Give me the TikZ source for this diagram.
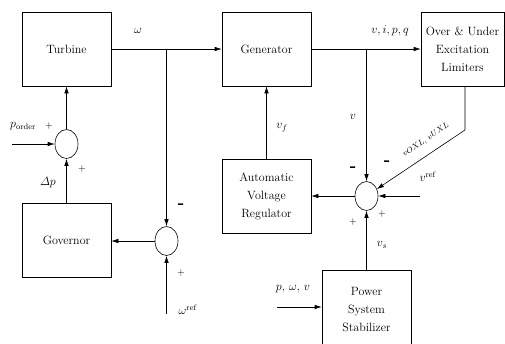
\documentclass[tikz,border=0pt]{standalone}
\usepackage{amsmath}
\usepackage{tikz}
\usetikzlibrary{shapes.geometric, arrows.meta, positioning}

\tikzset{
  block/.style={draw, line width=0.6pt, minimum width=89pt, minimum height=74pt,
    align=center, inner sep=2pt},
  sumnode/.style={draw, ellipse, line width=0.6pt, minimum width=23pt,
    minimum height=29pt, inner sep=0pt},
  arr/.style={line width=0.6pt, -{Latex[length=7pt,width=4.5pt]}},
  sign/.style={inner sep=0pt, font=\normalsize},
  minus/.style={inner sep=0pt, font=\LARGE\bfseries}
}

\begin{document}
\begin{tikzpicture}[x=1pt, y=-1pt, font=\fontsize{12}{18}\selectfont]
				\useasboundingbox (0,0) rectangle (505,343);
				\clip (0,0) rectangle (505,343);
				% blocks
				\node[block] (turbine) at (66.5,49) {Turbine};
				\node[block] (generator) at (266.5,49) {Generator};
				\node[block, minimum width=83pt] (limiter) at (462.5,49) {Over \& Under\\Excitation\\Limiters};
				\node[block] (avr) at (266.5,196) {Automatic\\Voltage\\Regulator};
				\node[block] (governor) at (66.5,240) {Governor};
				\node[block, minimum height=80pt] (pss) at (366.5,310) {Power\\System\\Stabilizer};
				% summing points
				\node[sumnode] (sum1) at (66.5,144) {};
				\node[sumnode] (sum2) at (166.5,241) {};
				\node[sumnode] (sum3) at (366.5,196) {};
				% free ends and branch points
				\coordinate (br1) at (166.5,49);
				\coordinate (br2) at (366.5,49);
				\coordinate (wref) at (166.5,314);
				\coordinate (pin) at (12,144);
				\coordinate (vrefin) at (420,196);
				\coordinate (lim) at (465,130);
				\coordinate (psin) at (277,307);
				% connectors
				\draw[arr] (turbine) -- (generator);
				\draw[arr] (br1) -- (sum2);
				\draw[arr] (sum2) -- (sum2 -| governor.east);
				\draw[arr] (wref) -- (sum2);
				\draw[arr] (governor) -- (sum1);
				\draw[arr] (sum1) -- (turbine);
				\draw[arr] (pin) -- (sum1);
				\draw[arr] (avr) -- (generator);
				\draw[arr] (generator) -- (limiter);
				\draw[arr] (br2) -- (sum3);
				\draw[arr] (sum3) -- (sum3 -| avr.east);
				\draw[arr] (vrefin) -- (sum3);
				\draw[arr] (pss) -- (sum3);
				\draw[arr] (limiter.south -| lim) -- (lim) -- (sum3);
				\draw[arr] (psin) -- (psin -| pss.west);
				% labels
				\node (lomega) at (138,31) {$\omega$};
				\node (lvipq) at (390,31) {$v, i, p, q$};
				\node (lporder) at (23,126) {$p_{\mathrm{order}}$};
				\node[sign] (s1a) at (49,126) {$+$};
				\node[sign] (s1b) at (82,169) {$+$};
				\node (ldp) at (48,183) {$\varDelta p$};
				\node[minus] (s2a) at (181,206) {-};
				\node[sign] (s2b) at (181,273) {$+$};
				\node (lwref) at (188,310) {$\omega^{\mathrm{ref}}$};
				\node (lvf) at (282,128) {$v_f$};
				\node (lv) at (353,117) {$v$};
				\node[minus] (s3a) at (353,169) {-};
				\node[minus] (s3b) at (387,163) {-};
				\node (lvref) at (428,177) {$v^{\mathrm{ref}}$};
				\node[sign] (s3c) at (382,214) {$+$};
				\node[sign] (s3d) at (353,222) {$+$};
				\node (lvs) at (382,245) {$v_s$};
				\node (lpwv) at (293,289) {$p$, $\omega$, $v$};
				\node[rotate=34, font=\footnotesize] (lxl) at (426,140) {$vOXL$, $vUXL$};
			\end{tikzpicture}
\end{document}
